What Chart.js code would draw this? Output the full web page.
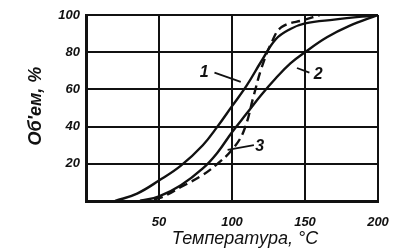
<!DOCTYPE html>
<html>
<head>
<meta charset="utf-8">
<script src="https://cdn.jsdelivr.net/npm/chart.js@4"></script>
<style>
  html, body { margin: 0; padding: 0; background: #fff; }
  #wrap { width: 395px; height: 252px; }
</style>
</head>
<body>
<div id="wrap"><canvas id="volChart" width="395" height="252"></canvas></div>
<script>
// Объем в зависимости от температуры, кривые 1, 2, 3

const xTicks = [50, 100, 150, 200];
const yTicks = [20, 40, 60, 80, 100];

const temps1 = [20, 35, 50, 65, 80, 90, 100, 110, 120, 130, 140, 150, 170, 200];
const vol1   = [0, 4, 11, 19, 30, 40, 51, 62, 75, 87, 92.5, 95.5, 97.5, 100];

const temps2 = [37, 50, 65, 80, 90, 100, 110, 120, 130, 140, 150, 165, 180, 200];
const vol2   = [0, 2.5, 8.5, 17.5, 26, 37, 47, 57, 66, 74, 80, 88, 94, 100];

const temps3 = [37, 50, 65, 80, 90, 100, 108, 115, 120, 127, 134, 150, 160];
const vol3   = [0, 1.5, 7.5, 14, 20, 27.5, 37.5, 57, 71, 85, 93.5, 97.5, 100];

const curveLabels = ["1", "2", "3"];

function pts(xs, ys) {
  return xs.map((x, i) => ({ x: x, y: ys[i] }));
}

const ink = "#111";
const tickFont = { family: "Liberation Sans", size: 13, weight: "bold", style: "italic" };

// подписи осей и номера кривых
const notes = {
  id: "notes",
  afterDraw(chart) {
    const ctx = chart.ctx;
    const xs = chart.scales.x, ys = chart.scales.y;
    ctx.save();
    ctx.fillStyle = ink;
    ctx.strokeStyle = ink;
    ctx.font = "italic 18px 'Liberation Sans'";
    ctx.textAlign = "center";
    ctx.textBaseline = "middle";
    ctx.fillText("Температура, °С", 245, 239);
    ctx.save();
    ctx.translate(36, 106);
    ctx.rotate(-Math.PI / 2);
    ctx.font = "bold italic 18px 'Liberation Sans'";
    ctx.fillText("Об'ем, %", 0, 0);
    ctx.restore();

    // выноски
    ctx.lineWidth = 1.8;
    ctx.font = "bold italic 16px 'Liberation Sans'";
    const leaders = [
      { t: curveLabels[0], lx: 81, ly: 69, x0: 88, y0: 69, x1: 106, y1: 64 },
      { t: curveLabels[1], lx: 159, ly: 68, x0: 153, y0: 69, x1: 144.5, y1: 71.5 },
      { t: curveLabels[2], lx: 119, ly: 29, x0: 115, y0: 30, x1: 97, y1: 27.5 }
    ];
    leaders.forEach(l => {
      ctx.beginPath();
      ctx.moveTo(xs.getPixelForValue(l.x0), ys.getPixelForValue(l.y0));
      ctx.lineTo(xs.getPixelForValue(l.x1), ys.getPixelForValue(l.y1));
      ctx.stroke();
      ctx.fillText(l.t, xs.getPixelForValue(l.lx), ys.getPixelForValue(l.ly));
    });
    ctx.restore();
  }
};

new Chart(
document.getElementById("volChart"),
{
    type: "line",
    data: {
        datasets: [
            { label: curveLabels[0], data: pts(temps1, vol1), borderDash: [] },
            { label: curveLabels[1], data: pts(temps2, vol2), borderDash: [] },
            { label: curveLabels[2], data: pts(temps3, vol3), borderDash: [9, 5] }
        ].map(d => Object.assign(d, {
            borderColor: ink,
            borderWidth: 2.4,
            pointRadius: 0,
            fill: false,
            tension: 0.4
        }))
    },
    options: {
        responsive: false,
        animation: false,
        events: [],
        layout: { padding: { top: 15, right: 17, left: 0, bottom: 0 } },
        plugins: { legend: { display: false }, tooltip: { enabled: false } },
        scales: {
            x: {
                type: "linear",
                min: 0, max: 200,
                afterBuildTicks: s => { s.ticks = [0].concat(xTicks).map(v => ({ value: v })); },
                afterFit: s => { s.height = 51; s.paddingLeft = 0; s.paddingRight = 0; },
                grid: { color: ink, lineWidth: 2, drawTicks: false },
                border: { color: ink, width: 3 },
                ticks: {
                    color: ink, font: tickFont, padding: 14, maxRotation: 0,
                    callback: v => (v === 0 ? "" : String(v))
                }
            },
            y: {
                min: 0, max: 100,
                afterBuildTicks: s => { s.ticks = [0].concat(yTicks).map(v => ({ value: v })); },
                afterFit: s => { s.width = 86; s.paddingTop = 0; s.paddingBottom = 0; },
                grid: { color: ink, lineWidth: 2, drawTicks: false },
                border: { color: ink, width: 3 },
                ticks: {
                    color: ink, font: tickFont, padding: 6,
                    callback: v => (v === 0 ? "" : String(v))
                }
            }
        }
    },
    plugins: [notes]
});
</script>
</body>
</html>
